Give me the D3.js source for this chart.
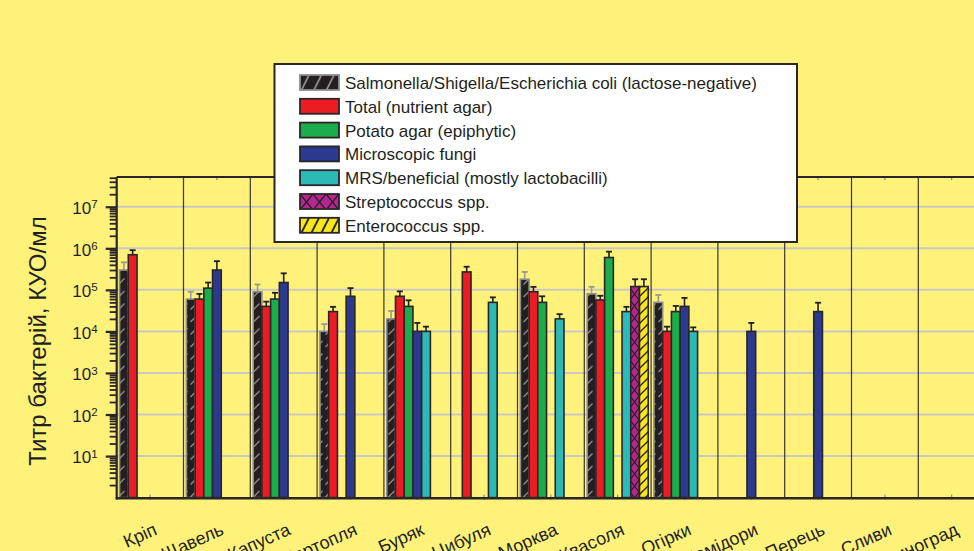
<!DOCTYPE html>
<html>
<head>
<meta charset="utf-8">
<script src="https://cdn.jsdelivr.net/npm/d3@7"></script>
<style>
  html, body { margin: 0; padding: 0; background: #fef27b; }
  svg { display: block; font-family: "Liberation Sans", Arial, sans-serif; }
</style>
</head>
<body>
<svg id="chart" width="974" height="551"></svg>
<script>
// Vegetables sampled
const categories = ["Кріп", "Щавель", "Капуста", "Картопля", "Буряк", "Цибуля", "Морква",
  "Квасоля", "Огірки", "Помідори", "Перець", "Сливи", "Виноград"];

// Titres (CFU/ml) per medium; null = not detected / not tested
const lactoseNeg    = [3e5, 6e4, 9e4, 1e4, 2e4, null, 1.8e5, 8e4, 5e4, null, null, null, null];
const lactoseNegErr = [1.6e5, 3e4, 4.5e4, 5e3, 1.1e4, null, 9e4, 3.8e4, 2.5e4, null, null, null, null];
const total         = [7e5, 6e4, 4e4, 3e4, 7e4, 2.7e5, 9e4, 5.7e4, 1e4, null, null, null, null];
const totalErr      = [2e5, 2e4, 1.2e4, 9e3, 2.2e4, 9e4, 2.8e4, 1.5e4, 3e3, null, null, null, null];
const potato        = [null, 1.1e5, 6e4, null, 4e4, null, 5e4, 6e5, 3e4, null, null, null, null];
const potatoErr     = [null, 4e4, 2.5e4, null, 1.6e4, null, 2e4, 2.3e5, 1.1e4, null, null, null, null];
const fungi         = [null, 3e5, 1.5e5, 7e4, 1e4, null, null, null, 4e4, 1e4, 3e4, null, null];
const fungiErr      = [null, 1.9e5, 1e5, 4e4, 6e3, null, null, null, 2.4e4, 6e3, 1.9e4, null, null];
const mrs           = [null, null, null, null, 1e4, 5e4, 2e4, 3e4, 1e4, null, null, null, null];
const mrsErr        = [null, null, null, null, 3e3, 1.6e4, 6e3, 9e3, 2.5e3, null, null, null, null];
const strep         = [null, null, null, null, null, null, null, 1.2e5, null, null, null, null, null];
const strepErr      = [null, null, null, null, null, null, null, 6e4, null, null, null, null, null];
const entero        = [null, null, null, null, null, null, null, 1.2e5, null, null, null, null, null];
const enteroErr     = [null, null, null, null, null, null, null, 6e4, null, null, null, null, null];

const seriesNames = [
  "Salmonella/Shigella/Escherichia coli (lactose-negative)",
  "Total (nutrient agar)",
  "Potato agar (epiphytic)",
  "Microscopic fungi",
  "MRS/beneficial (mostly lactobacilli)",
  "Streptococcus spp.",
  "Enterococcus spp."
];
const majorTicks = [1e1, 1e2, 1e3, 1e4, 1e5, 1e6, 1e7];
const yTitle = "Титр бактерій, КУО/мл";

const series = [
  { key: "lac",   name: seriesNames[0], values: lactoseNeg, errs: lactoseNegErr, fill: "url(#hatchDark)",   stroke: "#8e8e8e", errColor: "#9a9a9a", legendFill: "url(#hatchDarkL)" },
  { key: "tot",   name: seriesNames[1], values: total,      errs: totalErr,      fill: "#ec1c24",          stroke: "#2a2526", errColor: "#231f20", legendFill: "#ec1c24" },
  { key: "pot",   name: seriesNames[2], values: potato,     errs: potatoErr,     fill: "#1bac4b",          stroke: "#2a2526", errColor: "#231f20", legendFill: "#1bac4b" },
  { key: "fun",   name: seriesNames[3], values: fungi,      errs: fungiErr,      fill: "#2b3990",          stroke: "#2a2526", errColor: "#231f20", legendFill: "#2b3990" },
  { key: "mrs",   name: seriesNames[4], values: mrs,        errs: mrsErr,        fill: "#2dbab6",          stroke: "#2a2526", errColor: "#231f20", legendFill: "#2dbab6" },
  { key: "str",   name: seriesNames[5], values: strep,      errs: strepErr,      fill: "url(#crossMag)",    stroke: "#2a2526", errColor: "#231f20", legendFill: "url(#crossMagL)" },
  { key: "ent",   name: seriesNames[6], values: entero,     errs: enteroErr,     fill: "url(#stripeYel)",   stroke: "#2a2526", errColor: "#231f20", legendFill: "url(#stripeYelL)" }
];

const W = 974, H = 551;
const plot = { left: 116.7, top: 177, bottom: 497.6 };
const catStep = 66.8;

const svg = d3.select("#chart");
svg.append("rect").attr("width", W).attr("height", H).attr("fill", "#fef27b");

// fill patterns
const defs = svg.append("defs");
function pattern(id, w, h, bg, paths, color, sw) {
  const p = defs.append("pattern").attr("id", id).attr("patternUnits", "userSpaceOnUse")
    .attr("width", w).attr("height", h);
  p.append("rect").attr("width", w).attr("height", h).attr("fill", bg);
  paths.forEach(d => p.append("path").attr("d", d).attr("stroke", color)
    .attr("stroke-width", sw).attr("fill", "none"));
}
pattern("hatchDark", 9, 12.5, "#231f20", ["M1.5,9.5 L7.5,3.5"], "#a0a0a0", 1.3);
pattern("hatchDarkL", 12.5, 16, "#231f20", ["M1,16 L9,0"], "#a0a0a0", 1.6);
pattern("crossMag", 9, 12, "#b3278f", ["M0,0 L9,12", "M9,0 L0,12"], "#231f20", 1.1);
pattern("crossMagL", 13, 16, "#b3278f", ["M0,0 L13,16", "M13,0 L0,16"], "#231f20", 1.4);
pattern("stripeYel", 9, 9, "#f7e81c", ["M0,9 L9,0", "M-1,1 L1,-1", "M8,10 L10,8"], "#231f20", 1.3);
pattern("stripeYelL", 10, 16, "#f7e81c", ["M1,16 L9,0"], "#231f20", 1.8);

// scales
const x0 = d3.scaleBand().domain(categories)
  .range([plot.left, plot.left + catStep * categories.length]).padding(0);
const x1 = d3.scaleBand().domain(series.map(s => s.key))
  .range([0, x0.bandwidth()]).paddingInner(0).paddingOuter(0.33);
const y = d3.scaleLog().domain([1, 5.2e7]).range([plot.bottom, plot.top]);

const plotRight = plot.left + catStep * categories.length;

// horizontal grid
svg.append("g").selectAll("line").data(majorTicks).join("line")
  .attr("x1", plot.left).attr("x2", plotRight)
  .attr("y1", d => y(d)).attr("y2", d => y(d))
  .attr("stroke", "#c9c8c2").attr("stroke-width", 2);

// vertical category separators
svg.append("g").selectAll("line").data(categories.slice(1)).join("line")
  .attr("x1", d => x0(d)).attr("x2", d => x0(d))
  .attr("y1", plot.top).attr("y2", plot.bottom)
  .attr("stroke", "#3a3630").attr("stroke-width", 1.2);

// small ticks at category centres
const centres = categories.map(c => x0(c) + x0.bandwidth() / 2);
svg.append("g").selectAll("line").data(centres).join("line")
  .attr("x1", d => d).attr("x2", d => d)
  .attr("y1", plot.bottom - 3).attr("y2", plot.bottom + 2)
  .attr("stroke", "#777").attr("stroke-width", 1);
svg.append("g").selectAll("line").data(centres).join("line")
  .attr("x1", d => d).attr("x2", d => d)
  .attr("y1", plot.top).attr("y2", plot.top + 3)
  .attr("stroke", "#777").attr("stroke-width", 1);

// bars
const barData = [];
series.forEach(s => {
  s.values.forEach((v, i) => {
    if (v != null) barData.push({ s, cat: categories[i], v, e: s.errs[i] });
  });
});

const bars = svg.append("g");
// error bars drawn under the bar outline
bars.selectAll("g.err").data(barData).join("g").attr("class", "err")
  .each(function (d) {
    const g = d3.select(this);
    const cx = x0(d.cat) + x1(d.s.key) + x1.bandwidth() / 2;
    const yTop = y(d.v + d.e);
    g.append("line").attr("x1", cx).attr("x2", cx).attr("y1", y(d.v)).attr("y2", yTop)
      .attr("stroke", d.s.errColor).attr("stroke-width", 1.6);
    g.append("line").attr("x1", cx - 3).attr("x2", cx + 3).attr("y1", yTop).attr("y2", yTop)
      .attr("stroke", d.s.errColor).attr("stroke-width", 1.8);
  });
bars.selectAll("rect.bar").data(barData).join("rect").attr("class", "bar")
  .attr("x", d => x0(d.cat) + x1(d.s.key))
  .attr("width", x1.bandwidth())
  .attr("y", d => y(d.v))
  .attr("height", d => plot.bottom - y(d.v))
  .attr("fill", d => d.s.fill)
  .attr("stroke", d => d.s.stroke)
  .attr("stroke-width", 1.6);

// frame: top border, left axis, bottom axis
svg.append("line").attr("x1", plot.left).attr("x2", plotRight)
  .attr("y1", plot.top).attr("y2", plot.top).attr("stroke", "#2a2526").attr("stroke-width", 2.2);
svg.append("line").attr("x1", plot.left - 1).attr("x2", plotRight)
  .attr("y1", plot.bottom + 0.6).attr("y2", plot.bottom + 0.6).attr("stroke", "#2a2526").attr("stroke-width", 2.6);

// y axis: minor ticks
const minorTicks = [];
for (let e = 0; e <= 7; e++) for (let m = 2; m <= 9; m++) {
  const v = m * Math.pow(10, e);
  if (v <= 5.2e7) minorTicks.push(v);
}
const yMinor = svg.append("g").attr("transform", `translate(${plot.left},0)`)
  .call(d3.axisLeft(y).tickValues(minorTicks).tickSize(7).tickFormat(""));
yMinor.select(".domain").remove();
yMinor.selectAll(".tick line").attr("stroke", "#2a2526").attr("stroke-width", 1.8);

const yMajor = svg.append("g").attr("transform", `translate(${plot.left},0)`)
  .call(d3.axisLeft(y).tickValues(majorTicks).tickSize(11).tickPadding(8).tickFormat(""));
yMajor.select(".domain").attr("stroke", "#2a2526").attr("stroke-width", 2.2)
  .attr("d", `M0,${plot.top}V${plot.bottom + 1.8}`);
yMajor.selectAll(".tick line").attr("stroke", "#2a2526").attr("stroke-width", 2.2);
yMajor.selectAll(".tick text")
  .attr("font-size", 17).attr("fill", "#231f20").attr("dy", "0.4em")
  .each(function (d) {
    const t = d3.select(this);
    t.append("tspan").text("10");
    t.append("tspan").attr("dy", "-0.5em").attr("font-size", 11.5).text(Math.round(Math.log10(d)));
  });

// y title
svg.append("text")
  .attr("transform", `translate(46,341) rotate(-90)`)
  .attr("text-anchor", "middle")
  .attr("font-size", 24).attr("fill", "#231f20")
  .text(yTitle);

// category labels
svg.append("g").selectAll("text").data(categories).join("text")
  .attr("transform", d => `translate(${x0(d) + x0.bandwidth() / 2 + 8},534) rotate(-24)`)
  .attr("text-anchor", "end")
  .attr("font-size", 18).attr("fill", "#231f20")
  .text(d => d);

// legend
const lg = svg.append("g");
lg.append("rect").attr("x", 274.5).attr("y", 64).attr("width", 522.5).attr("height", 178)
  .attr("fill", "#ffffff").attr("stroke", "#2a2526").attr("stroke-width", 2);
const rows = lg.selectAll("g.row").data(series).join("g").attr("class", "row")
  .attr("transform", (d, i) => `translate(300,${75 + i * 23.8})`);
rows.append("rect").attr("width", 39).attr("height", 15)
  .attr("fill", d => d.legendFill)
  .attr("stroke", d => d.key === "lac" ? "#8e8e8e" : "#2a2526").attr("stroke-width", 1.8);
rows.append("text").attr("x", 45).attr("y", 14)
  .attr("font-size", 17).attr("fill", "#231f20")
  .text(d => d.name);
</script>
</body>
</html>
